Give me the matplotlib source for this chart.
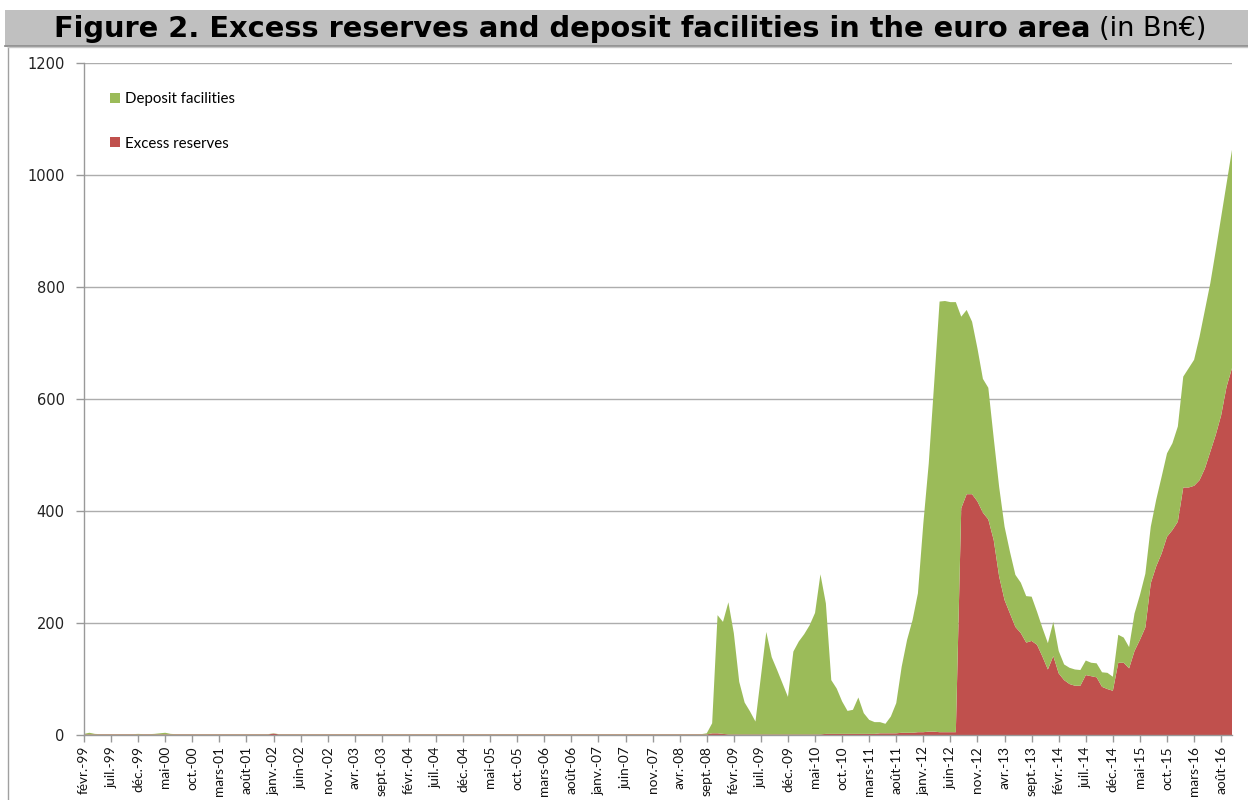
import matplotlib
matplotlib.use("Agg")
import matplotlib.pyplot as plt
from matplotlib.patches import Rectangle, Patch
import numpy as np

# ---------------- data (Bn EUR, monthly, Feb 1999 - Oct 2016) ----------------
deposit_1999 = [1, 3, 1, 0.5, 0.5, 0.5, 0.5, 0.5, 0.5, 0.5, 1]
deposit_2000 = [0.5, 0.5, 1, 2, 3, 1, 0.5, 0.5, 0.5, 0.5, 0.5, 0.5]
deposit_2001 = [0.5, 0.5, 0.5, 0.5, 0.5, 0.5, 0.5, 0.5, 0.5, 0.5, 0.5, 0.5]
deposit_2002 = [0.5, 0.5, 0.5, 0.5, 0.5, 0.5, 0.5, 0.5, 0.5, 0.5, 0.5, 0.5]
deposit_2003 = [0.5, 0.5, 0.5, 0.5, 0.5, 0.5, 0.5, 0.5, 0.5, 0.5, 0.5, 0.5]
deposit_2004 = [0.5, 0.5, 0.5, 0.5, 0.5, 0.5, 0.5, 0.5, 0.5, 0.5, 0.5, 0.5]
deposit_2005 = [0.5, 0.5, 0.5, 0.5, 0.5, 0.5, 0.5, 0.5, 0.5, 0.5, 0.5, 0.5]
deposit_2006 = [0.5, 0.5, 0.5, 0.5, 0.5, 0.5, 0.5, 0.5, 0.5, 0.5, 0.5, 0.5]
deposit_2007 = [0.5, 0.5, 0.5, 0.5, 0.5, 0.5, 0.5, 0.5, 0.5, 0.5, 0.5, 0.5]
deposit_2008 = [0.5, 0.5, 0.5, 0.5, 0.5, 0.5, 0.5, 0.5, 2, 18, 211, 200]
deposit_2009 = [236, 181, 94, 57, 41, 23, 103, 183, 138, 115, 91, 67]
deposit_2010 = [148, 166, 179, 195, 217, 286, 233, 96, 81, 58, 41, 43]
deposit_2011 = [65, 37, 25, 21, 20, 17, 30, 54, 118, 166, 201, 248]
deposit_2012 = [373, 479, 622, 769, 770, 768, 768, 342, 329, 308, 273, 239]
deposit_2013 = [235, 182, 160, 131, 110, 93, 90, 83, 79, 59, 51, 47]
deposit_2014 = [61, 40, 28, 29, 29, 28, 26, 24, 25, 26, 29, 25]
deposit_2015 = [50, 45, 38, 67, 80, 96, 101, 119, 137, 149, 155, 170]
deposit_2016 = [198, 213, 225, 256, 283, 301, 329, 354, 363, 390]

excess_1999 = [1, 1, 1, 1, 1, 1, 1, 1, 1, 1, 1]
excess_2000 = [1, 1, 1, 1, 1, 1, 1, 1, 1, 1, 1, 1]
excess_2001 = [1, 1, 1, 1, 1, 1, 1, 1, 1, 1, 1, 1]
excess_2002 = [2.5, 1, 1, 1, 1, 1, 1, 1, 1, 1, 1, 1]
excess_2003 = [1, 1, 1, 1, 1, 1, 1, 1, 1, 1, 1, 1]
excess_2004 = [1, 1, 1, 1, 1, 1, 1, 1, 1, 1, 1, 1]
excess_2005 = [1, 1, 1, 1, 1, 1, 1, 1, 1, 1, 1, 1]
excess_2006 = [1, 1, 1, 1, 1, 1, 1, 1, 1, 1, 1, 1]
excess_2007 = [1, 1, 1, 1, 1, 1, 1, 1, 1, 1, 1, 1]
excess_2008 = [1, 1, 1, 1, 1, 1, 1, 1, 1, 3, 3, 2]
excess_2009 = [1, 1, 1, 1, 1, 1, 1, 1, 1, 1, 1, 1]
excess_2010 = [1, 1, 1, 1, 1, 1, 2, 2, 2, 2, 2, 2]
excess_2011 = [2, 2, 2, 2, 3, 3, 3, 3, 4, 4, 4, 5]
excess_2012 = [5, 6, 6, 5, 5, 5, 5, 405, 430, 430, 417, 397]
excess_2013 = [385, 348, 283, 241, 217, 193, 182, 165, 168, 161, 140, 117]
excess_2014 = [141, 110, 98, 91, 88, 88, 107, 105, 103, 86, 82, 79]
excess_2015 = [129, 129, 119, 150, 170, 192, 271, 301, 324, 354, 366, 381]
excess_2016 = [442, 442, 445, 455, 476, 506, 536, 571, 622, 655]

tick_labels = ["févr.-99", "juil.-99", "déc.-99", "mai-00", "oct.-00", "mars-01",
               "août-01", "janv.-02", "juin-02", "nov.-02", "avr.-03", "sept.-03",
               "févr.-04", "juil.-04", "déc.-04", "mai-05", "oct.-05", "mars-06",
               "août-06", "janv.-07", "juin-07", "nov.-07", "avr.-08", "sept.-08",
               "févr.-09", "juil.-09", "déc.-09", "mai-10", "oct.-10", "mars-11",
               "août-11", "janv.-12", "juin-12", "nov.-12", "avr.-13", "sept.-13",
               "févr.-14", "juil.-14", "déc.-14", "mai-15", "oct.-15", "mars-16",
               "août-16"]
tick_step = 5
y_ticks = [0, 200, 400, 600, 800, 1000, 1200]

series_names = ["Deposit facilities", "Excess reserves"]
title_main = "Figure 2. Excess reserves and deposit facilities in the euro area"
title_unit = "(in Bn€)"

deposit = np.array(deposit_1999 + deposit_2000 + deposit_2001 + deposit_2002 + deposit_2003
                   + deposit_2004 + deposit_2005 + deposit_2006 + deposit_2007 + deposit_2008
                   + deposit_2009 + deposit_2010 + deposit_2011 + deposit_2012 + deposit_2013
                   + deposit_2014 + deposit_2015 + deposit_2016, dtype=float)
excess = np.array(excess_1999 + excess_2000 + excess_2001 + excess_2002 + excess_2003
                  + excess_2004 + excess_2005 + excess_2006 + excess_2007 + excess_2008
                  + excess_2009 + excess_2010 + excess_2011 + excess_2012 + excess_2013
                  + excess_2014 + excess_2015 + excess_2016, dtype=float)
x = np.arange(len(deposit))

GREEN = "#9BBB59"
RED = "#C0504D"
GRID = "#adadad"
W, H = 1248, 800

fig = plt.figure(figsize=(W / 100, H / 100), dpi=100)
fig.patch.set_facecolor("white")

# title bar
fig.patches.append(Rectangle((5 / W, 1 - 45 / H), 1 - 5 / W, 35 / H, transform=fig.transFigure,
                             facecolor="#c0c0c0", edgecolor="none", zorder=0))
fig.add_artist(plt.Line2D([5 / W, 1], [1 - 45.5 / H, 1 - 45.5 / H], transform=fig.transFigure,
                          color="#7f7f7f", lw=1.2))
# chart frame
fig.add_artist(plt.Line2D([8 / W, 8 / W], [0, 1 - 47 / H], transform=fig.transFigure,
                          color="#a0a0a0", lw=1))
fig.add_artist(plt.Line2D([8 / W, 1], [1 - 47 / H, 1 - 47 / H], transform=fig.transFigure,
                          color="#c8c8c8", lw=1))

fig.text(1090 / W, 1 - 29 / H, title_main, ha="right", va="center",
         fontsize=20.8, fontweight="bold", family="DejaVu Sans", color="black")
fig.text(1099 / W, 1 - 29.5 / H, title_unit, ha="left", va="center",
         fontsize=19.5, family="DejaVu Sans", color="black")

left, right, top, bottom = 84 / W, 1232 / W, 1 - 63 / H, 1 - 735 / H
ax = fig.add_axes([left, bottom, right - left, top - bottom])
ax.set_facecolor("white")

ax.stackplot(x, excess, deposit, colors=[RED, GREEN], linewidth=0, zorder=2)

ax.set_xlim(0, len(x) - 1)
ax.set_ylim(0, 1200)
ax.set_yticks(y_ticks)
ax.set_yticklabels([str(v) for v in y_ticks], family="DejaVu Sans", fontsize=10.5, color="#222222")
ax.yaxis.grid(True, color=GRID, lw=1, zorder=1)
ax.set_axisbelow(True)

xt = np.arange(0, len(x), tick_step)[:len(tick_labels)]
ax.set_xticks(xt)
ax.set_xticklabels(tick_labels, rotation=90, family="Lato", fontsize=9.8, color="#111111",
                   va="top", ha="center")

for s in ["top", "right"]:
    ax.spines[s].set_visible(False)
for s in ["left", "bottom"]:
    ax.spines[s].set_color("#999999")
    ax.spines[s].set_linewidth(1)
ax.tick_params(axis="both", direction="out", color="#999999", length=6, width=1)
ax.tick_params(axis="y", pad=8)
ax.tick_params(axis="x", pad=3, length=5)

handles = [Patch(facecolor=GREEN, edgecolor="none"), Patch(facecolor=RED, edgecolor="none")]
leg = ax.legend(handles, series_names, loc="upper left", bbox_to_anchor=(0.011, 0.977),
                frameon=False, prop={"family": "Lato", "size": 10.8}, handlelength=0.65,
                handleheight=0.65, handletextpad=0.35, labelspacing=2.05)

fig.savefig("out.png", dpi=100)
